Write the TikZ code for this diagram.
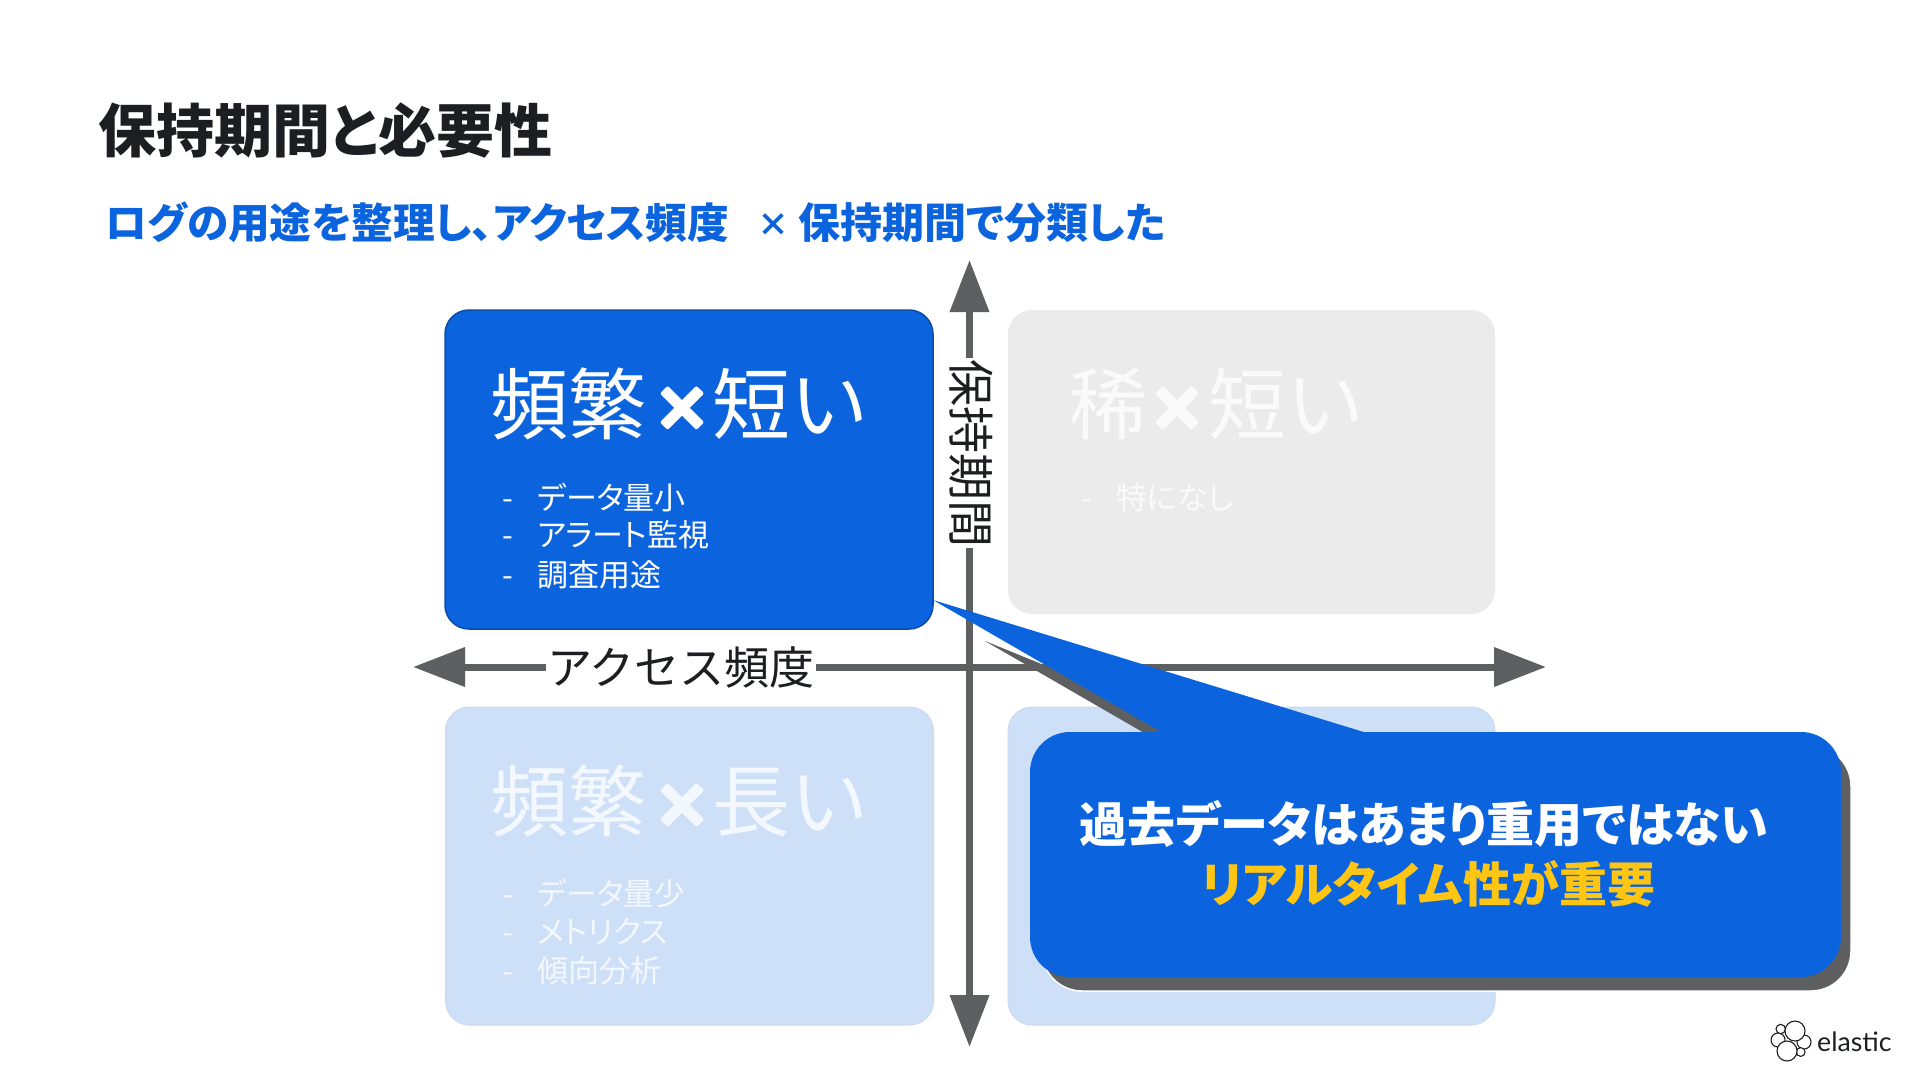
\documentclass[tikz,border=0pt]{standalone}
\usepackage{fontspec}
\usetikzlibrary{arrows.meta}
\newfontfamily\jp{Noto Sans CJK JP}
\newfontfamily\jpp[RawFeature={+palt}]{Noto Sans CJK JP}
\newfontfamily\logofont{Lato}
\definecolor{eblue}{HTML}{0B64DD}
\definecolor{edge}{HTML}{0A4CA6}
\definecolor{axis}{HTML}{5E5F61}
\definecolor{ink}{HTML}{1C1E21}
\definecolor{gold}{HTML}{FEC514}
\definecolor{greybox}{HTML}{EBEBEB}
\definecolor{greytext}{HTML}{FAFAFA}
\definecolor{paleblue}{HTML}{CEDFF8}
\definecolor{paleedge}{HTML}{CCD9EE}
\definecolor{paletext}{HTML}{F3F7FE}
\newcommand{\fs}[1]{\fontsize{#1}{#1}\selectfont}
\newcommand{\heavyx}{\special{pdf:code q 2 Tr 4 w 1 j}×\special{pdf:code Q}}
\tikzset{
  x=1pt,y=-1pt,
  quad/.style={rectangle,rounded corners=24pt,inner sep=0pt},
  lbl/.style={anchor=base west,inner sep=0pt},
  ctr/.style={anchor=base,inner sep=0pt},
  heading/.style={lbl,font=\jp\fs{78}},
  crossmark/.style={ctr,font=\jp\bfseries\fs{58}},
  item/.style={lbl,font=\jpp\fs{31}},
  axisline/.style={draw=axis,line width=7pt,{Triangle[length=52pt,width=38pt]}-{Triangle[length=52pt,width=38pt]}},
  axislabel/.style={fill=white,inner sep=1pt,font=\jp\fs{45},text=ink},
  logocirc/.style={draw=ink,fill=white,line width=1.1pt},
}
\begin{document}
\begin{tikzpicture}
\useasboundingbox (0,0) rectangle (1920,1080);
\fill[white] (0,0) rectangle (1920,1080);
% title
\node[lbl,font=\jpp\bfseries\fs{58},text=ink] (title) at (98,152) {保持期間と必要性};
\node[lbl,font=\jpp\bfseries\fs{41.7},text=eblue] (subA) at (105,238) {ログの用途を整理し、アクセス頻度};
\node[ctr,font=\jp\bfseries\fs{32},text=eblue] (subB) at (773,236) {×};
\node[lbl,font=\jpp\bfseries\fs{42},text=eblue] (subC) at (798,238) {保持期間で分類した};
% quadrants
\node[quad,fill=greybox,minimum width=487pt,minimum height=304pt] (q2) at (1251.5,462) {};
\node[quad,fill=paleblue,draw=paleedge,line width=1pt,minimum width=488pt,minimum height=318pt] (q3) at (689.5,866) {};
\node[quad,fill=paleblue,draw=paleedge,line width=1pt,minimum width=487pt,minimum height=318pt] (q4) at (1251.5,866) {};
% axes
\coordinate (hl) at (413,667); \coordinate (hr) at (1546,667);
\coordinate (vt) at (969.5,260); \coordinate (vb) at (969.5,1047);
\draw[axisline] (hl) -- (hr);
\draw[axisline] (vt) -- (vb);
\node[axislabel] (xlab) at (681,667) {アクセス頻度};
\node[axislabel,font=\jp\fs{47},rotate=-90] (ylab) at (971,453) {保持期間};
% active quadrant
\node[quad,fill=eblue,draw=edge,line width=1.5pt,minimum width=488pt,minimum height=319pt] (q1) at (689,469.5) {};
\node[heading,text=white] (h1a) at (490,433) {頻繁};
\node[crossmark,text=white] (h1b) at (682,430) {\heavyx};
\node[heading,text=white] (h1c) at (712,433) {短い};
\foreach \n/\y/\t in {a/509/データ量小,b/546/アラート監視,c/586/調査用途}{
  \node[item,text=white] (d1\n) at (502,\y) {-};
  \node[item,text=white] (i1\n) at (537,\y) {\t};
}
% grey quadrant text
\node[heading,text=greytext] (h2a) at (1069,433) {稀};
\node[crossmark,text=greytext] (h2b) at (1177,430) {\heavyx};
\node[heading,text=greytext] (h2c) at (1208,433) {短い};
\node[item,text=greytext] (d2a) at (1081,509) {-};
\node[item,text=greytext] (i2a) at (1116,509) {特になし};
% pale quadrant text
\node[heading,text=paletext] (h3a) at (490,830) {頻繁};
\node[crossmark,text=paletext] (h3b) at (682,827) {\heavyx};
\node[heading,text=paletext] (h3c) at (712,830) {長い};
\foreach \n/\y/\t in {a/905/データ量少,b/943/メトリクス,c/982/傾向分析}{
  \node[item,text=paletext] (d3\n) at (502,\y) {-};
  \node[item,text=paletext] (i3\n) at (537,\y) {\t};
}
% callout shadow
\coordinate (stip) at (985,641);
\fill[axis] (stip) -- (1260,790) -- (1150,732) -- cycle;
\fill[axis] (stip) -- (1165,745) -- (1240,745) -- cycle;
\node[rectangle,rounded corners=40pt,fill=axis,draw=white,line width=1.5pt,minimum width=809pt,minimum height=245pt] (shadow) at (1446.5,868.5) {};
% callout
\coordinate (tip) at (933,600);
\fill[eblue] (tip) -- (1367,733) -- (1163,733) -- cycle;
\node[rectangle,rounded corners=40pt,fill=eblue,minimum width=811pt,minimum height=245pt,inner sep=0pt] (callout) at (1435.5,854.5) {};
\node[ctr,font=\jpp\bfseries\fs{48},text=white] (c1) at (1424,842) {過去データはあまり重用ではない};
\node[ctr,font=\jpp\bfseries\fs{48},text=gold] (c2) at (1428,902) {リアルタイム性が重要};
% logo
\draw[logocirc] (1778,1040) circle (7);
\draw[logocirc] (1780.7,1029) circle (4.7);
\draw[logocirc] (1804,1042) circle (7);
\draw[logocirc] (1800.7,1052) circle (4.4);
\draw[logocirc] (1787,1051) circle (10);
\draw[logocirc] (1795,1031) circle (10);
\node[lbl,font=\logofont\fs{26.7},text=ink] (logo) at (1817,1051) {elastic};
\end{tikzpicture}
\end{document}
